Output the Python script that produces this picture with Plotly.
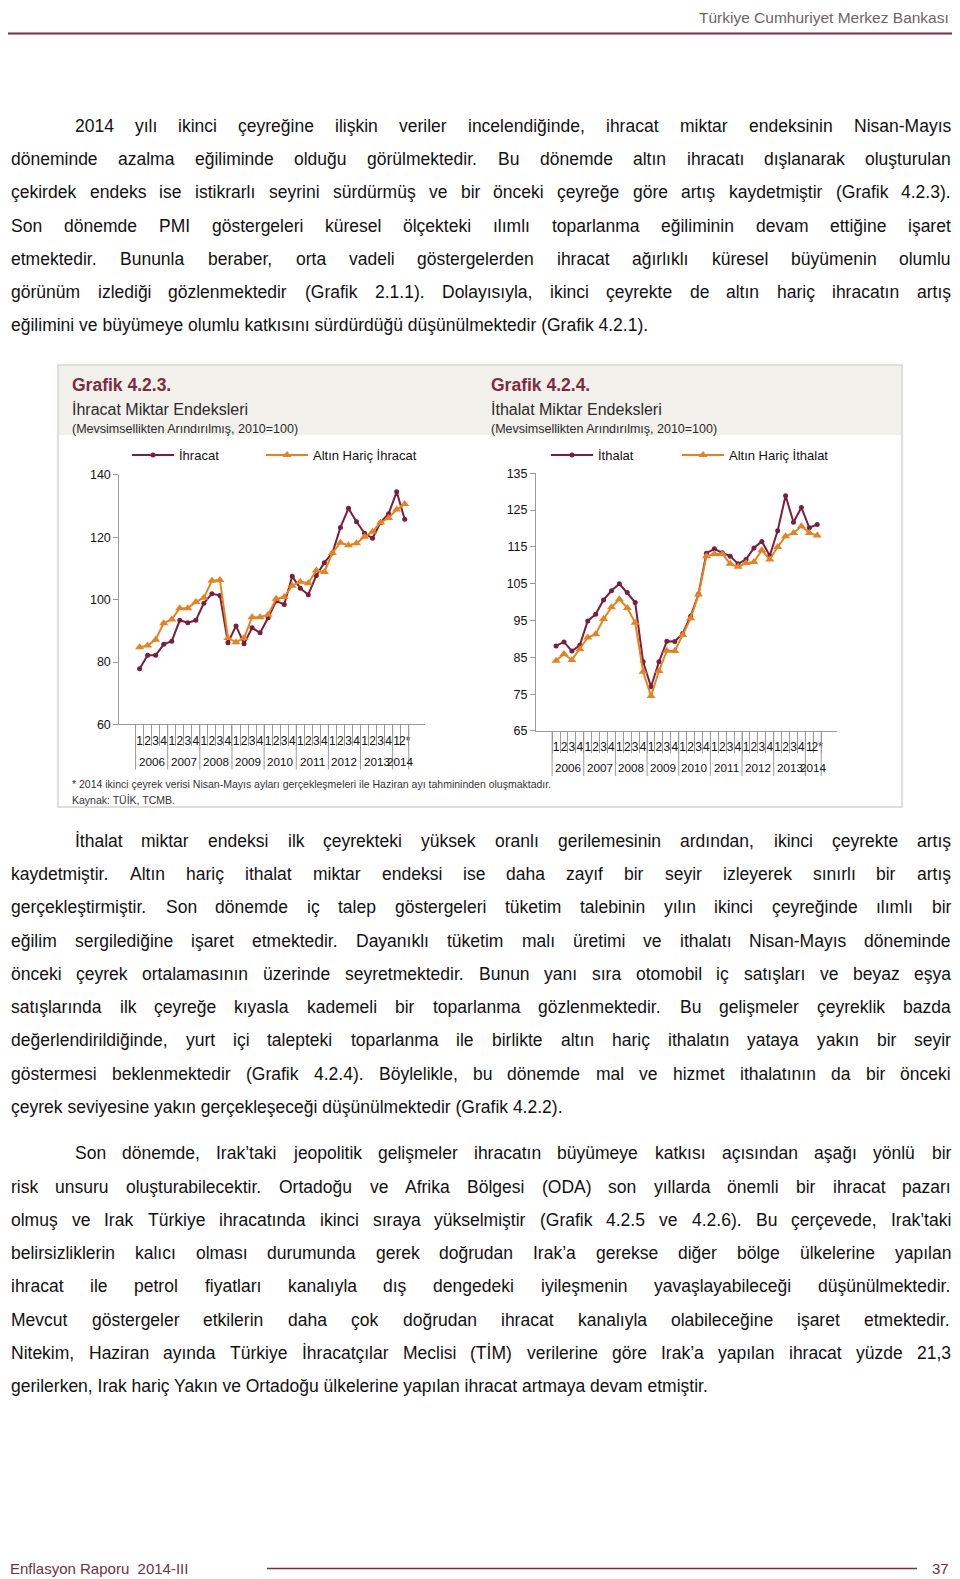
import plotly.graph_objects as go

# ---------------- data ----------------
years = ["2006"] * 4 + ["2007"] * 4 + ["2008"] * 4 + ["2009"] * 4 + ["2010"] * 4 + \
        ["2011"] * 4 + ["2012"] * 4 + ["2013"] * 4 + ["2014"] * 2
quarters = ["1", "2", "3", "4"] * 8 + ["1", "2*"]

ihracat = [77.9, 82.2, 82.2, 85.7, 86.7, 93.4, 92.6, 93.4, 98.9, 101.9, 101.4, 86.2,
           91.6, 85.9, 91.0, 89.4, 94.2, 99.6, 98.5, 107.5, 103.7, 101.6, 107.8, 111.9,
           115.0, 123.2, 129.3, 125.0, 121.3, 119.7, 124.8, 127.6, 134.6, 125.8]
altin_haric_ihracat = [84.8, 85.3, 87.2, 92.5, 93.7, 97.3, 97.3, 99.3, 100.6, 106.1, 106.3, 87.7,
                       86.4, 87.7, 94.4, 94.4, 95.2, 100.3, 100.9, 104.5, 105.8, 105.3, 109.4, 108.9,
                       115.0, 118.3, 117.5, 118.1, 120.2, 121.8, 124.8, 126.2, 128.9, 130.7]

ithalat = [88.1, 89.2, 86.7, 88.3, 94.9, 96.7, 100.6, 103.1, 105.0, 102.6, 99.9, 83.8,
           77.0, 83.8, 89.4, 89.3, 91.5, 96.2, 102.2, 113.3, 114.5, 113.4, 112.5, 110.4,
           111.6, 114.7, 116.5, 112.6, 119.4, 128.9, 121.7, 125.7, 120.2, 121.1]
altin_haric_ithalat = [84.1, 85.9, 84.3, 87.2, 90.4, 91.3, 95.4, 98.6, 100.8, 98.4, 94.4, 81.1,
                       74.5, 81.3, 86.8, 86.7, 91.1, 95.6, 102.1, 112.5, 113.1, 113.1, 110.4, 109.6,
                       110.6, 110.9, 114.1, 111.6, 115.0, 117.9, 118.8, 120.6, 118.8, 118.1]

exp_ticks = [60, 80, 100, 120, 140]
imp_ticks = [65, 75, 85, 95, 105, 115, 125, 135]

para1 = [
    "2014 yılı ikinci çeyreğine ilişkin veriler incelendiğinde, ihracat miktar endeksinin Nisan-Mayıs",
    "döneminde azalma eğiliminde olduğu görülmektedir. Bu dönemde altın ihracatı dışlanarak oluşturulan",
    "çekirdek endeks ise istikrarlı seyrini sürdürmüş ve bir önceki çeyreğe göre artış kaydetmiştir (Grafik 4.2.3).",
    "Son dönemde PMI göstergeleri küresel ölçekteki ılımlı toparlanma eğiliminin devam ettiğine işaret",
    "etmektedir. Bununla beraber, orta vadeli göstergelerden ihracat ağırlıklı küresel büyümenin olumlu",
    "görünüm izlediği gözlenmektedir (Grafik 2.1.1). Dolayısıyla, ikinci çeyrekte de altın hariç ihracatın artış",
    "eğilimini ve büyümeye olumlu katkısını sürdürdüğü düşünülmektedir (Grafik 4.2.1).",
]
para2 = [
    "İthalat miktar endeksi ilk çeyrekteki yüksek oranlı gerilemesinin ardından, ikinci çeyrekte artış",
    "kaydetmiştir. Altın hariç ithalat miktar endeksi ise daha zayıf bir seyir izleyerek sınırlı bir artış",
    "gerçekleştirmiştir. Son dönemde iç talep göstergeleri tüketim talebinin yılın ikinci çeyreğinde ılımlı bir",
    "eğilim sergilediğine işaret etmektedir. Dayanıklı tüketim malı üretimi ve ithalatı Nisan-Mayıs döneminde",
    "önceki çeyrek ortalamasının üzerinde seyretmektedir. Bunun yanı sıra otomobil iç satışları ve beyaz eşya",
    "satışlarında ilk çeyreğe kıyasla kademeli bir toparlanma gözlenmektedir. Bu gelişmeler çeyreklik bazda",
    "değerlendirildiğinde, yurt içi talepteki toparlanma ile birlikte altın hariç ithalatın yataya yakın bir seyir",
    "göstermesi beklenmektedir (Grafik 4.2.4). Böylelikle, bu dönemde mal ve hizmet ithalatının da bir önceki",
    "çeyrek seviyesine yakın gerçekleşeceği düşünülmektedir (Grafik 4.2.2).",
]
para3 = [
    "Son dönemde, Irak’taki jeopolitik gelişmeler ihracatın büyümeye katkısı açısından aşağı yönlü bir",
    "risk unsuru oluşturabilecektir. Ortadoğu ve Afrika Bölgesi (ODA) son yıllarda önemli bir ihracat pazarı",
    "olmuş ve Irak Türkiye ihracatında ikinci sıraya yükselmiştir (Grafik 4.2.5 ve 4.2.6). Bu çerçevede, Irak’taki",
    "belirsizliklerin kalıcı olması durumunda gerek doğrudan Irak’a gerekse diğer bölge ülkelerine yapılan",
    "ihracat ile petrol fiyatları kanalıyla dış dengedeki iyileşmenin yavaşlayabileceği düşünülmektedir.",
    "Mevcut göstergeler etkilerin daha çok doğrudan ihracat kanalıyla olabileceğine işaret etmektedir.",
    "Nitekim, Haziran ayında Türkiye İhracatçılar Meclisi (TİM) verilerine göre Irak’a yapılan ihracat yüzde 21,3",
    "gerilerken, Irak hariç Yakın ve Ortadoğu ülkelerine yapılan ihracat artmaya devam etmiştir.",
]

# ---------------- helpers ----------------
PW, PH = 960, 1579
def px(x): return (x - 8) / PW
def py(y): return 1 - ((y - 14.97) / 0.9912) / PH

# Arial / Liberation Sans advance widths (per 1000 em)
AW = {' ': 278, '!': 278, "'": 191, '’': 222, '(': 333, ')': 333, '*': 389, ',': 278, '-': 333,
      '.': 278, '/': 278, ':': 278, ';': 278, '=': 584,
      'A': 667, 'B': 667, 'C': 722, 'D': 722, 'E': 667, 'F': 611, 'G': 778, 'H': 722, 'I': 278,
      'J': 500, 'K': 667, 'L': 556, 'M': 833, 'N': 722, 'O': 778, 'P': 667, 'Q': 778, 'R': 722,
      'S': 667, 'T': 611, 'U': 722, 'V': 667, 'W': 944, 'X': 667, 'Y': 667, 'Z': 611,
      'a': 556, 'b': 556, 'c': 500, 'd': 556, 'e': 556, 'f': 278, 'g': 556, 'h': 556, 'i': 222,
      'j': 222, 'k': 500, 'l': 222, 'm': 833, 'n': 556, 'o': 556, 'p': 556, 'q': 556, 'r': 333,
      's': 500, 't': 278, 'u': 556, 'v': 500, 'w': 722, 'x': 500, 'y': 500, 'z': 500,
      'ç': 500, 'ğ': 556, 'ı': 278, 'ö': 556, 'ş': 500, 'ü': 556, 'İ': 278, 'Ç': 722, 'Ö': 778,
      'Ş': 667, 'Ü': 722}
def tw(s, fs):
    return sum(AW.get(c, 556) for c in s) / 1000.0 * fs

BODY_FONT = "Liberation Sans"
LEFT, RIGHT = 10, 950
INDENT = 73.5

annotations = []
def ann(text, x, y, size, color="#111111", xanchor="left", yanchor="middle", bold=False,
        family=BODY_FONT, xref="paper", raw_x=False):
    annotations.append(dict(text=("<b>%s</b>" % text) if bold else text,
                            x=x if raw_x else px(x), y=py(y),
                            xref=xref, yref="paper", xanchor=xanchor, yanchor=yanchor,
                            showarrow=False, borderpad=0,
                            font=dict(family=family, size=size, color=color)))

paras = [(para1, 126), (para2, 841), (para3, 1153.4)]
fs_body = 17.5
for lines, _ in paras:
    for i, ln in enumerate(lines[:-1]):
        avail = RIGHT - (INDENT if i == 0 else LEFT)
        fs_body = min(fs_body, avail / tw(ln, 1.0) * 0.985)

LINE_H = 33.24
for lines, y0 in paras:
    for i, ln in enumerate(lines):
        y = y0 + i * LINE_H
        x0 = INDENT if i == 0 else LEFT
        if i == len(lines) - 1:
            ann(ln, x0, y, fs_body)
            continue
        words = ln.split(" ")
        widths = [tw(w, fs_body) for w in words]
        gap = (RIGHT - x0 - sum(widths)) / (len(words) - 1)
        x = x0
        for w, wd in zip(words, widths):
            ann(w, x, y, fs_body)
            x += wd + gap

# header / footer
ann("Türkiye Cumhuriyet Merkez Bankası", 950, 17, 15.5, color="#6e6466", xanchor="right")
ann("Enflasyon Raporu  2014-III", 9, 1568.5, 15, color="#6b3344")
ann("37", 950, 1568.5, 15, color="#6b3344", xanchor="right")

# chart titles
MAROON = "#7d2b41"
for x0, g, t in [(71, "Grafik 4.2.3.", "İhracat Miktar Endeksleri"),
                 (490, "Grafik 4.2.4.", "İthalat Miktar Endeksleri")]:
    ann(g, x0, 385, 17.5, color=MAROON, bold=True)
    ann(t, x0, 409, 16, color="#2a2a2a")
    ann("(Mevsimsellikten Arındırılmış, 2010=100)", x0, 429, 12.5, color="#2a2a2a")

ann("* 2014 ikinci çeyrek verisi Nisan-Mayıs ayları gerçekleşmeleri ile Haziran ayı tahmininden oluşmaktadır.",
    71, 784, 10.5, color="#333333")
ann("Kaynak: TÜİK, TCMB.", 71, 800, 10.5, color="#333333")

AXC = "#9a9a9a"
shapes = [
    dict(type="line", xref="paper", yref="paper", x0=px(7), x1=px(952), y0=py(33.5), y1=py(33.5),
         line=dict(color="#7b2f42", width=2)),
    dict(type="line", xref="paper", yref="paper", x0=px(267), x1=px(917), y0=py(1568.5), y1=py(1568.5),
         line=dict(color="#7b2f42", width=1.5)),
    dict(type="rect", xref="paper", yref="paper", x0=px(58), x1=px(902), y0=py(807), y1=py(365),
         fillcolor="white", line=dict(color="#d4d4d4", width=1.5), layer="below"),
    dict(type="rect", xref="paper", yref="paper", x0=px(59), x1=px(901), y0=py(435), y1=py(366),
         fillcolor="#f2f0eb", line=dict(width=0), layer="below"),
]

# category keys (one per quarter) and year groups
xcats = ["%s-%s" % (yy, qq) for yy, qq in zip(years, quarters)]
year_groups = []
for i, yy in enumerate(years):
    if not year_groups or year_groups[-1][0] != yy:
        year_groups.append([yy, i, i])
    else:
        year_groups[-1][2] = i

# year labels and year dividers for both charts (category index positions)
for xref, axis_y in [("x", 724.5), ("x2", 731)]:
    for yy, i0, i1 in year_groups:
        ann(yy, (i0 + i1) / 2.0, axis_y + 37, 11.7, color="#111111", xanchor="center",
            xref=xref, raw_x=True)
        shapes.append(dict(type="line", xref=xref, yref="paper", x0=i0 - 0.5, x1=i0 - 0.5,
                           y0=py(axis_y), y1=py(axis_y + 45), line=dict(color=AXC, width=1)))
    last = year_groups[-1][2] + 0.5
    shapes.append(dict(type="line", xref=xref, yref="paper", x0=last, x1=last,
                       y0=py(axis_y), y1=py(axis_y + 45), line=dict(color=AXC, width=1)))

# ---------------- figure ----------------
DARK = "#7b1e3d"
ORANGE = "#e8821e"
TICKF = dict(family="Liberation Sans", size=12.5, color="#111111")
XTICKF = dict(family="Liberation Sans", size=12, color="#111111")

series = [
    (ihracat, "İhracat", DARK, "circle", 5, "x", "y", "legend"),
    (altin_haric_ihracat, "Altın Hariç İhracat", ORANGE, "triangle-up", 8, "x", "y", "legend3"),
    (ithalat, "İthalat", DARK, "circle", 5, "x2", "y3", "legend2"),
    (altin_haric_ithalat, "Altın Hariç İthalat", ORANGE, "triangle-up", 8, "x2", "y3", "legend4"),
]
fig = go.Figure()
for vals, name, col, sym, ms, xa, ya, lg in series:
    fig.add_trace(go.Scatter(x=xcats, y=vals, name=name, mode="lines+markers",
                             line=dict(color=col, width=2), marker=dict(symbol=sym, size=ms, color=col),
                             xaxis=xa, yaxis=ya, legend=lg))

def xax(domain, anchor):
    return dict(domain=domain, anchor=anchor, type="category", categoryorder="array",
                categoryarray=xcats, tickmode="array", tickvals=xcats, ticktext=quarters,
                showline=True, linecolor=AXC, linewidth=1,
                ticks="outside", tickson="boundaries", ticklen=21, tickcolor=AXC,
                ticklabelstandoff=5, tickangle=0, showgrid=False,
                tickfont=XTICKF, fixedrange=True)

def yax(domain, anchor, rng, ticks, side="left", overlaying=None):
    d = dict(anchor=anchor, range=rng, tickvals=ticks, ticks="outside", ticklen=5, tickcolor=AXC,
             showline=True, linecolor=AXC, linewidth=1, showgrid=False, zeroline=False,
             tickfont=TICKF, side=side, fixedrange=True)
    if overlaying:
        d["overlaying"] = overlaying
    else:
        d["domain"] = domain
    return d

def leg(xl):
    return dict(orientation="h", x=px(xl), y=py(455), xanchor="left", yanchor="middle",
                bgcolor="rgba(0,0,0,0)", font=dict(family="Liberation Sans", size=13, color="#111"),
                itemwidth=42)

d1y = [py(724.5), py(475)]
d2y = [py(731), py(473.3)]
fig.update_layout(
    width=PW, height=PH, margin=dict(l=0, r=0, t=0, b=0),
    paper_bgcolor="white", plot_bgcolor="rgba(0,0,0,0)",
    xaxis=xax([px(119.3), px(425)], "y"),
    yaxis=yax(d1y, "x", [60, 140], exp_ticks),
    yaxis2=yax(None, "x", [60, 140], exp_ticks, side="right", overlaying="y"),
    xaxis2=xax([px(536), px(837.3)], "y3"),
    yaxis3=yax(d2y, "x2", [65, 135], imp_ticks),
    yaxis4=yax(None, "x2", [65, 135], imp_ticks, side="right", overlaying="y3"),
    legend=leg(127), legend3=leg(261), legend2=leg(546), legend4=leg(677),
    annotations=annotations, shapes=shapes, showlegend=True, hovermode=False,
)

fig.write_html("out.html")
